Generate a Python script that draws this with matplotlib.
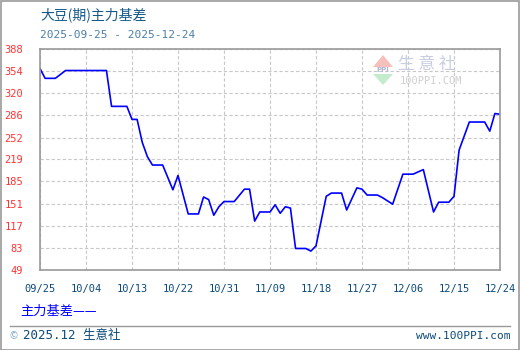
import matplotlib
matplotlib.use("Agg")
import matplotlib.pyplot as plt
import matplotlib.dates as mdates
from matplotlib.patches import Rectangle, Polygon
import pandas as pd

plt.rcParams['font.family'] = ['Noto Sans CJK SC', 'DejaVu Sans']

# 主力基差 (vertices)
dates = ["2025-09-25", "2025-09-26", "2025-09-28", "2025-09-30", "2025-10-08",
         "2025-10-09", "2025-10-12", "2025-10-13", "2025-10-14", "2025-10-15",
         "2025-10-16", "2025-10-17", "2025-10-19", "2025-10-21", "2025-10-22",
         "2025-10-24", "2025-10-26", "2025-10-27", "2025-10-28", "2025-10-29",
         "2025-10-30", "2025-10-31", "2025-11-02", "2025-11-04", "2025-11-05",
         "2025-11-06", "2025-11-07", "2025-11-09", "2025-11-10", "2025-11-11",
         "2025-11-12", "2025-11-13", "2025-11-14", "2025-11-16", "2025-11-17",
         "2025-11-18", "2025-11-20", "2025-11-21", "2025-11-23", "2025-11-24",
         "2025-11-26", "2025-11-27", "2025-11-28", "2025-11-30", "2025-12-01",
         "2025-12-03", "2025-12-05", "2025-12-07", "2025-12-09", "2025-12-11",
         "2025-12-12", "2025-12-14", "2025-12-15", "2025-12-16", "2025-12-18",
         "2025-12-21", "2025-12-22", "2025-12-23", "2025-12-24"]
basis = [358, 343, 343, 355, 355,
         300, 300, 280, 280, 245,
         223, 210, 210, 172, 194,
         135, 135, 161, 157, 133,
         146, 154, 154, 173, 173,
         124, 138, 138, 149, 136,
         146, 144, 82, 82, 78,
         86, 162, 167, 167, 141,
         175, 173, 164, 164, 160,
         150, 196, 196, 203, 138,
         153, 153, 162, 233, 276,
         276, 262, 289, 288]

y_ticks = [49, 83, 117, 151, 185, 219, 252, 286, 320, 354, 388]
x_ticks = ["2025-09-25", "2025-10-04", "2025-10-13", "2025-10-22", "2025-10-31",
           "2025-11-09", "2025-11-18", "2025-11-27", "2025-12-06", "2025-12-15",
           "2025-12-24"]

W, H = 520, 350
fig = plt.figure(figsize=(W / 100, H / 100), dpi=100)


def px(x, y):
    return x / W, 1 - y / H


ax = fig.add_axes([40 / W, 1 - 270 / H, 460 / W, 221 / H])
ax.plot(pd.to_datetime(dates), basis, color='#0000ff', lw=1.2)

xt = pd.to_datetime(x_ticks)
ax.set_xlim(xt[0], xt[-1])
ax.set_ylim(49, 388)
ax.set_xticks(xt)
ax.set_xticklabels([d.strftime("%m/%d") for d in xt])
ax.set_yticks(y_ticks)
ax.tick_params(length=0)
ax.tick_params(axis='x', pad=10, labelsize=7.5, labelcolor='#0b4a7a')
ax.tick_params(axis='y', pad=12, labelsize=7.5, labelcolor='#ff3333')
for lab in ax.get_xticklabels() + ax.get_yticklabels():
    lab.set_family('DejaVu Sans Mono')
ax.grid(True, color='#c8c8c8', linestyle=(0, (3, 2)), lw=0.8)
for s in ax.spines.values():
    s.set_color('#999999')
    s.set_linewidth(1.2)

# watermark
logo_red = Polygon([px(373, 67), px(393, 67), px(383, 55)], closed=True,
                   transform=fig.transFigure, facecolor='#f5c0bc', edgecolor='none')
logo_green = Polygon([px(373, 74), px(393, 74), px(383, 85)], closed=True,
                     transform=fig.transFigure, facecolor='#c4ebcc', edgecolor='none')
fig.patches.extend([logo_red, logo_green])
fig.text(*px(383, 70.5), "PPI", fontsize=5, color='#b0b4d0', ha='center', va='center',
         family='DejaVu Sans', weight='bold')
fig.text(*px(427, 65), "生 意 社", fontsize=12, color='#c9cde2', ha='center', va='center')
fig.text(*px(431, 81), "100PPI.COM", fontsize=7.5, color='#cfcfcf', ha='center', va='center',
         family='DejaVu Sans Mono')

# titles
fig.text(*px(40, 15), "大豆(期)主力基差", fontsize=10, color='#155a8a', va='center')
fig.text(*px(40, 35), "2025-09-25 - 2025-12-24", fontsize=8, color='#4a7ea8', va='center',
         family='DejaVu Sans Mono')

# legend
fig.text(*px(20, 311), "主力基差——", fontsize=9.5, color='#0000ff', va='center')

# footer
fig.add_artist(plt.Line2D([10 / W, 510 / W], [1 - 326 / H, 1 - 326 / H],
                          color='#999999', lw=1))
fig.text(*px(10, 336), "©", fontsize=7, color='#7fa6c6', va='center')
fig.text(*px(23, 336), "2025.12 生意社", fontsize=9, color='#0b4a7a', va='center',
         family=['DejaVu Sans Mono', 'Noto Sans CJK SC'])
fig.text(*px(510, 336), "www.100PPI.com", fontsize=8, color='#0b4a7a', va='center',
         ha='right', family='DejaVu Sans Mono')

fig.add_artist(Rectangle((0.5 / W, 0.5 / H), 1 - 1.5 / W, 1 - 1.5 / H,
                         transform=fig.transFigure, fill=False,
                         edgecolor='#999999', lw=1.2))

fig.savefig("out.png", dpi=100)
